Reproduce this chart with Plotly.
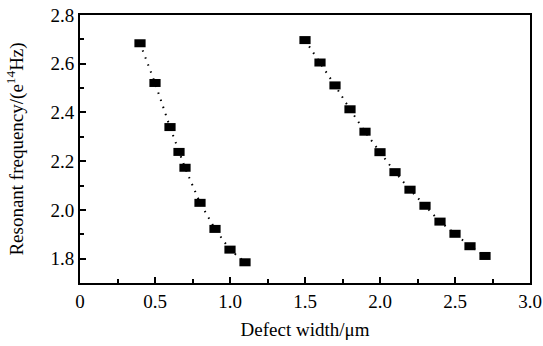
import plotly.graph_objects as go

x1 = [0.4, 0.5, 0.6, 0.66, 0.7, 0.8, 0.9, 1.0, 1.1]
y1 = [2.684, 2.521, 2.34, 2.238, 2.173, 2.029, 1.922, 1.837, 1.785]
x2 = [1.5, 1.6, 1.7, 1.8, 1.9, 2.0, 2.1, 2.2, 2.3, 2.4, 2.5, 2.6, 2.7]
y2 = [2.697, 2.605, 2.511, 2.413, 2.321, 2.237, 2.155, 2.083, 2.017, 1.952, 1.902, 1.851, 1.811]

xticks = [0, 0.5, 1.0, 1.5, 2.0, 2.5, 3.0]
xticklabels = ["0", "0.5", "1.0", "1.5", "2.0", "2.5", "3.0"]
yticks = [1.8, 2.0, 2.2, 2.4, 2.6, 2.8]
yticklabels = ["1.8", "2.0", "2.2", "2.4", "2.6", "2.8"]

FONT = "Liberation Serif"

fig = go.Figure()
for xs, ys in [(x1, y1), (x2, y2)]:
    fig.add_trace(go.Scatter(
        x=xs, y=ys, mode="lines",
        line=dict(color="black", width=2, dash="1.5px,6px"),
        showlegend=False, hoverinfo="skip"))
    fig.add_trace(go.Scatter(
        x=xs, y=ys, mode="markers",
        marker=dict(symbol="line-ew", size=8, color="black",
                    line=dict(color="black", width=8)),
        showlegend=False))

fig.update_layout(
    width=543, height=346,
    margin=dict(l=80, r=13, t=15, b=63),
    paper_bgcolor="white", plot_bgcolor="white",
    font=dict(family=FONT, size=19, color="black"),
)
fig.update_xaxes(
    range=[0, 3], tickvals=xticks, ticktext=xticklabels,
    ticks="inside", ticklen=6, tickwidth=1.5, tickcolor="black",
    minor=dict(ticks="inside", ticklen=4, tickwidth=1.5, tickcolor="black", dtick=0.25, tick0=0),
    showline=True, linewidth=2, linecolor="black", mirror=True,
    showgrid=False, zeroline=False, automargin=False,
    tickfont=dict(family=FONT, size=19),
    title=dict(text="Defect width/μm", font=dict(family=FONT, size=19), standoff=12),
)
fig.update_yaxes(
    range=[1.7, 2.8], tickvals=yticks, ticktext=yticklabels,
    ticks="inside", ticklen=6, tickwidth=1.5, tickcolor="black",
    minor=dict(ticks="inside", ticklen=4, tickwidth=1.5, tickcolor="black", dtick=0.1, tick0=1.7),
    showline=True, linewidth=2, linecolor="black", mirror=True,
    showgrid=False, zeroline=False, automargin=False,
    tickfont=dict(family=FONT, size=19),
    title=dict(text="Resonant frequency/(e<sup>14</sup>Hz)", font=dict(family=FONT, size=19), standoff=22),
)

fig.write_html("out.html")
